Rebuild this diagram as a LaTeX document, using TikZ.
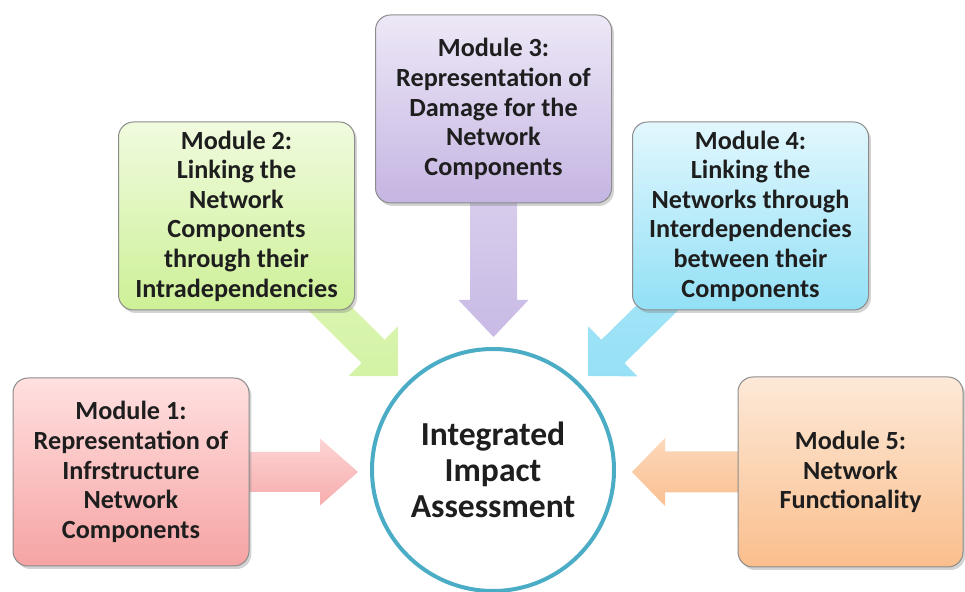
\documentclass[tikz,border=0pt]{standalone}
\usepackage{fontspec}
\setmainfont{Carlito}
\usetikzlibrary{calc,shadows,backgrounds}
\definecolor{txt}{RGB}{30,30,30}
\definecolor{boxline}{RGB}{140,140,140}
\definecolor{ring}{RGB}{75,172,198}
\definecolor{redT}{RGB}{255,224,224}\definecolor{redB}{RGB}{246,163,163}
\definecolor{grnT}{RGB}{240,251,222}\definecolor{grnB}{RGB}{205,240,150}
\definecolor{purT}{RGB}{237,232,247}\definecolor{purB}{RGB}{197,181,226}
\definecolor{bluT}{RGB}{226,247,253}\definecolor{bluB}{RGB}{146,224,246}
\definecolor{orgT}{RGB}{253,233,216}\definecolor{orgB}{RGB}{250,190,140}
\newcommand{\blockarrow}[6][]{%
  \coordinate (bahead) at ($(#3)!#6!(#2)$);
  \path[#1] ($(#2)!#4!90:(#3)$) -- ($(bahead)!#4!90:(#3)$) -- ($(bahead)!#5!90:(#3)$)
    -- (#3) -- ($(bahead)!#5!-90:(#3)$) -- ($(bahead)!#4!-90:(#3)$) -- ($(#2)!#4!-90:(#3)$) -- cycle;}
\tikzset{
  modbox/.style={rounded corners=7.5pt, draw=boxline, line width=0.5pt,
    minimum width=118pt, minimum height=94pt, align=center, inner sep=2pt,
    font=\fontsize{13.1}{14.8}\selectfont\bfseries, text=txt,
    drop shadow={shadow xshift=1.2pt, shadow yshift=-1.5pt, opacity=0.35}},
  hub/.style={circle, draw=ring, line width=2pt, fill=white, minimum size=121pt,
    align=center, font=\fontsize{16.8}{18}\selectfont\bfseries, text=txt}
}
\begin{document}
\begin{tikzpicture}[x=0.5pt,y=-0.5pt]
\useasboundingbox (0,0) rectangle (965,592);
\node[hub] (hub) at (493,470) {Integrated\\Impact\\Assessment};
\node[modbox, top color=redT, bottom color=redB] (m1) at (131,472)
  {Module 1:\\Representation of\\Infrstructure\\Network\\Components};
\node[modbox, top color=grnT, bottom color=grnB] (m2) at (236.5,216)
  {Module 2:\\Linking the\\Network\\Components\\through their\\Intradependencies};
\node[modbox, top color=purT, bottom color=purB] (m3) at (493.5,109)
  {Module 3:\\Representation of\\Damage for the\\Network\\Components};
\node[modbox, top color=bluT, bottom color=bluB] (m4) at (750.5,216)
  {Module 4:\\Linking the\\Networks through\\Interdependencies\\between their\\Components};
\node[modbox, top color=orgT, bottom color=orgB, minimum width=112.5pt, minimum height=95pt] (m5) at (850.5,472)
  {Module 5:\\Network\\Functionality};
\coordinate (t1) at (358,472);
\coordinate (t2) at (398,376);
\coordinate (t3) at (493.5,337);
\coordinate (t4) at (588,376);
\coordinate (t5) at (632,472);
\begin{scope}[on background layer]
\blockarrow[top color={rgb,255:red,253;green,212;blue,212}, bottom color={rgb,255:red,247;green,172;blue,172}]{m1.center}{t1}{10pt}{16.75pt}{19pt}
\blockarrow[top color={rgb,255:red,225;green,247;blue,190}, bottom color={rgb,255:red,212;green,243;blue,165}]{m2.center}{t2}{8.2pt}{17.5pt}{17.5pt}
\blockarrow[top color={rgb,255:red,226;green,217;blue,240}, bottom color={rgb,255:red,200;green,186;blue,229}]{m3.center}{t3}{11.75pt}{17.5pt}{18.5pt}
\blockarrow[top color={rgb,255:red,175;green,232;blue,248}, bottom color={rgb,255:red,150;green,224;blue,246}]{m4.center}{t4}{8.2pt}{17.5pt}{17.5pt}
\blockarrow[top color={rgb,255:red,252;green,216;blue,186}, bottom color={rgb,255:red,250;green,192;blue,145}]{m5.center}{t5}{10.25pt}{17pt}{16.5pt}
\end{scope}
\end{tikzpicture}
\end{document}
